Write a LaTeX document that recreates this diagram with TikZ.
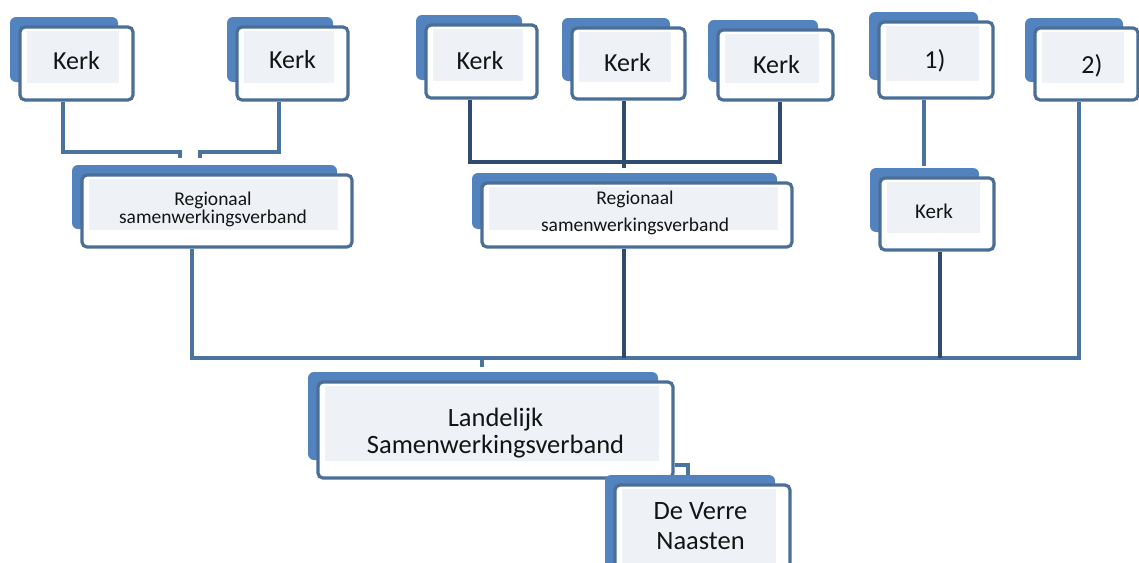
\documentclass[tikz,border=0pt]{standalone}
\usepackage{fontspec}
\setmainfont{Carlito}
\definecolor{backc}{HTML}{5383BE}
\definecolor{framec}{HTML}{4A6E98}
\definecolor{innerc}{HTML}{EEF1F6}
\definecolor{connc}{HTML}{4A73A0}
\definecolor{conndark}{HTML}{2F4C70}
\definecolor{textc}{HTML}{141414}
\pgfdeclarelayer{bg}
\pgfdeclarelayer{paper}
\pgfsetlayers{paper,bg,main}
\tikzset{
  frontbox/.style={draw=framec, line width=3.2pt, fill=white, rounded corners=5pt, inner sep=0pt,
    path picture={\fill[innerc, sharp corners] ([xshift=7pt,yshift=-4pt]path picture bounding box.north west) rectangle ([xshift=-14pt,yshift=17pt]path picture bounding box.south east);}},
  backbox/.style={fill=backc, rounded corners=6pt},
  lbl/.style={text=textc, align=center, inner sep=0pt},
  conn/.style={draw=connc, line width=3.4pt},
  conndk/.style={draw=conndark, line width=3.4pt},
}
\newcommand\orgbox[5]{%
  \fill[backbox] ({#2-10},{#3-10}) rectangle ({#4-15},{#5-18});
  \node[frontbox, minimum width={(#4-#2)*1pt}, minimum height={(#5-#3)*1pt}] (#1) at ({(#2+#4)/2},{(#3+#5)/2}) {};
}
\begin{document}
\begin{tikzpicture}[x=1pt,y=-1pt]
\useasboundingbox (0,0) rectangle (1139,562);
\begin{pgfonlayer}{paper}
\fill[white] (0,0) rectangle (1139,562);
\end{pgfonlayer}
\clip (0,0) rectangle (1139,562);

\orgbox{k1}{20}{27}{133}{100}
\orgbox{k2}{237}{27}{348}{100}
\orgbox{k3}{426}{25}{537}{98}
\orgbox{k4}{572}{28}{685}{99}
\orgbox{k5}{718}{30}{833}{100}
\orgbox{p1}{879}{22}{993}{98}
\orgbox{p2}{1035}{28}{1138}{100}
\orgbox{r1}{82}{175}{352}{247}
\orgbox{r2}{482}{183}{792}{247}
\orgbox{k6}{880}{178}{994}{250}
\orgbox{lan}{318}{382}{673}{478}
\orgbox{dvn}{615}{485}{790}{590}

\node[lbl, font=\fontsize{26}{28}\selectfont] (k1t) at (76.5,60.5) {Kerk};
\node[lbl, font=\fontsize{26}{28}\selectfont] (k2t) at (292.5,60) {Kerk};
\node[lbl, font=\fontsize{26}{28}\selectfont] (k3t) at (480,61) {Kerk};
\node[lbl, font=\fontsize{26}{28}\selectfont] (k4t) at (627.5,63) {Kerk};
\node[lbl, font=\fontsize{26}{28}\selectfont] (k5t) at (776.5,64.5) {Kerk};
\node[lbl, font=\fontsize{26}{28}\selectfont] (p1t) at (935,61) {1)};
\node[lbl, font=\fontsize{26}{28}\selectfont] (p2t) at (1092,66) {2)};
\node[lbl, font=\fontsize{19.5}{18}\selectfont] (r1t) at (213,209) {Regionaal\\samenwerkingsverband};
\node[lbl, font=\fontsize{19.5}{27}\selectfont] (r2t) at (635,213) {Regionaal\\samenwerkingsverband};
\node[lbl, font=\fontsize{21}{24}\selectfont] (k6t) at (934,211) {Kerk};
\node[lbl, font=\fontsize{26.5}{27}\selectfont] (lant) at (495.5,433) {Landelijk\\Samenwerkingsverband};
\node[lbl, font=\fontsize{26.5}{30}\selectfont] (dvnt) at (700.5,526) {De Verre\\Naasten};

\coordinate (a1) at (63,152);
\coordinate (a2) at (180,158);
\coordinate (b1) at (279,152);
\coordinate (b2) at (200,158);
\coordinate (m1) at (470,162);
\coordinate (m2) at (780,162);
\coordinate (m3) at (624,168);
\coordinate (n1) at (924,166);
\coordinate (v1) at (192,358);
\coordinate (v2) at (624,358);
\coordinate (v3) at (940,358);
\coordinate (v4) at (1079,358);
\coordinate (t1) at (482,367);
\coordinate (d1) at (688,478);

\begin{pgfonlayer}{bg}
\draw[conn] (k1.south -| a1) |- (a2 |- a1) -- (a2);
\draw[conn] (k2.south -| b1) |- (b2 |- b1) -- (b2);
\draw[conndk] (k3.south -| m1) |- (m2) -- (m2 |- k5.south);
\draw[conndk] (m3 |- k4.south) -- (m3);
\draw[conn] (p1.south -| n1) -- (n1);
\draw[conn] (v1 |- r1.south) -- (v1) -- (v4) -- (v4 |- p2.south);
\draw[conndk] (v2 |- r2.south) -- (v2);
\draw[conndk] (v3 |- k6.south) -- (v3);
\draw[conn] (t1 |- v1) -- (t1);
\draw[conn] (lan.east |- 0,465) -| (d1);
\end{pgfonlayer}
\end{tikzpicture}
\end{document}
